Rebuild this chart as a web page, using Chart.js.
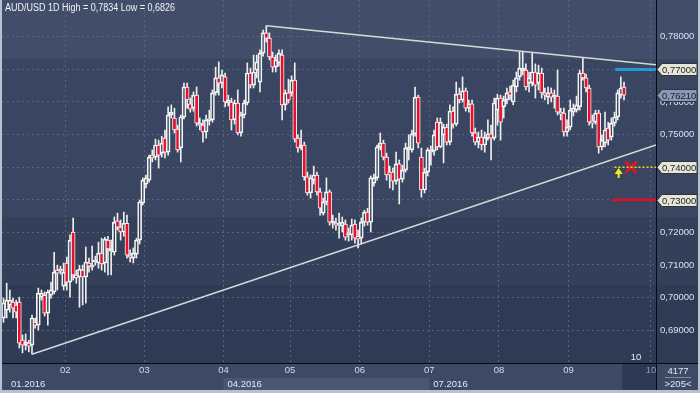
<!DOCTYPE html>
<html>
<head>
<meta charset="utf-8">
<title>AUD/USD 1D</title>
<script src="https://cdn.jsdelivr.net/npm/chart.js@4.4.1/dist/chart.umd.min.js"></script>
<style>
  html, body { margin: 0; padding: 0; background: #b8c1cf; }
  canvas { display: block; }
</style>
</head>
<body>
<canvas id="chart" width="700" height="393"></canvas>
<script>
// AUD/USD daily candles, Jan - Sep 2016
const opens = [
  .6937,.6961,.6977,.6986,.6977,.6986,.6869,.6854,.6860,.6854,
  .6924,.6915,.7001,.7007,.6952,.7007,.7017,.7084,.7081,.7035,
  .7106,.7047,.7201,.7069,.7063,.7084,.7063,.7106,.7093,.7109,
  .7106,.7136,.7106,.7176,.7142,.7139,.7235,.7216,.7201,.7228,
  .7130,.7121,.7133,.7176,.7290,.7348,.7360,.7437,.7431,.7468,
  .7443,.7489,.7446,.7560,.7551,.7517,.7459,.7554,.7646,.7594,
  .7581,.7621,.7529,.7529,.7508,.7542,.7545,.7628,.7674,.7658,
  .7677,.7597,.7600,.7545,.7597,.7505,.7560,.7597,.7689,.7652,
  .7698,.7661,.7750,.7812,.7796,.7738,.7707,.7720,.7744,.7591,
  .7628,.7628,.7667,.7489,.7459,.7468,.7370,.7321,.7360,.7376,
  .7324,.7259,.7293,.7324,.7228,.7228,.7222,.7219,.7225,.7192,
  .7192,.7225,.7188,.7182,.7231,.7262,.7231,.7351,.7367,.7462,
  .7474,.7431,.7385,.7385,.7357,.7410,.7363,.7391,.7453,.7453,
  .7502,.7615,.7431,.7330,.7385,.7446,.7449,.7538,.7462,.7499,
  .7523,.7477,.7572,.7532,.7624,.7606,.7634,.7581,.7594,.7505,
  .7477,.7492,.7468,.7489,.7502,.7489,.7575,.7612,.7585,.7606,
  .7631,.7600,.7646,.7677,.7695,.7698,.7658,.7658,.7692,.7658,
  .7689,.7628,.7615,.7628,.7615,.7618,.7569,.7566,.7508,.7523,
  .7569,.7575,.7585,.7689,.7674,.7643,.7542,.7538,.7566,.7462,
  .7474,.7520,.7492,.7535,.7554,.7621,.7646
];
const highs = [
  .6998,.7044,.7023,.6998,.6992,.7001,.6885,.6888,.6869,.6946,
  .6937,.7029,.7023,.7017,.7023,.7047,.7139,.7099,.7096,.7106,
  .7124,.7192,.7244,.7084,.7099,.7099,.7155,.7121,.7158,.7127,
  .7170,.7182,.7185,.7188,.7176,.7247,.7259,.7238,.7262,.7253,
  .7146,.7152,.7182,.7299,.7367,.7376,.7437,.7453,.7486,.7483,
  .7495,.7514,.7585,.7591,.7581,.7529,.7560,.7658,.7658,.7612,
  .7631,.7646,.7551,.7545,.7560,.7575,.7637,.7707,.7723,.7698,
  .7689,.7621,.7612,.7606,.7637,.7569,.7606,.7720,.7704,.7744,
  .7744,.7760,.7821,.7834,.7812,.7753,.7744,.7760,.7760,.7637,
  .7670,.7680,.7720,.7499,.7514,.7477,.7385,.7376,.7403,.7385,
  .7336,.7305,.7367,.7330,.7253,.7244,.7259,.7247,.7238,.7213,
  .7241,.7238,.7207,.7244,.7268,.7274,.7373,.7379,.7468,.7505,
  .7483,.7443,.7403,.7397,.7446,.7422,.7406,.7474,.7499,.7514,
  .7646,.7621,.7459,.7397,.7459,.7465,.7514,.7551,.7551,.7532,
  .7532,.7591,.7585,.7661,.7643,.7677,.7643,.7606,.7606,.7520,
  .7508,.7514,.7508,.7545,.7529,.7612,.7624,.7621,.7618,.7643,
  .7649,.7667,.7692,.7753,.7753,.7717,.7692,.7750,.7717,.7713,
  .7704,.7643,.7646,.7643,.7637,.7698,.7581,.7581,.7545,.7606,
  .7594,.7618,.7698,.7735,.7686,.7652,.7560,.7575,.7575,.7499,
  .7569,.7538,.7551,.7569,.7637,.7677,.7661
];
const lows = [
  .6924,.6937,.6955,.6937,.6937,.6845,.6830,.6839,.6833,.6826,
  .6906,.6900,.6992,.6943,.6915,.6998,.7011,.7023,.7072,.7023,
  .7023,.7001,.7053,.7044,.6970,.6977,.6983,.7078,.7084,.7099,
  .7090,.7084,.7078,.7069,.7069,.7130,.7207,.7176,.7188,.7121,
  .7109,.7106,.7121,.7164,.7284,.7336,.7354,.7416,.7422,.7397,
  .7431,.7428,.7437,.7551,.7505,.7446,.7416,.7548,.7581,.7569,
  .7572,.7526,.7514,.7477,.7489,.7529,.7538,.7621,.7621,.7643,
  .7585,.7588,.7514,.7532,.7499,.7495,.7551,.7591,.7643,.7643,
  .7674,.7631,.7741,.7784,.7729,.7692,.7692,.7710,.7545,.7575,
  .7597,.7618,.7477,.7446,.7453,.7360,.7314,.7305,.7348,.7314,
  .7253,.7253,.7284,.7222,.7213,.7207,.7182,.7201,.7176,.7173,
  .7176,.7167,.7152,.7164,.7219,.7222,.7201,.7342,.7360,.7453,
  .7422,.7360,.7336,.7330,.7348,.7287,.7354,.7385,.7422,.7446,
  .7495,.7459,.7308,.7321,.7373,.7406,.7437,.7453,.7459,.7413,
  .7468,.7468,.7520,.7526,.7597,.7600,.7572,.7569,.7495,.7468,
  .7459,.7453,.7446,.7483,.7422,.7483,.7529,.7483,.7551,.7594,
  .7606,.7591,.7631,.7667,.7683,.7637,.7631,.7649,.7612,.7637,
  .7612,.7606,.7594,.7600,.7581,.7560,.7545,.7495,.7495,.7514,
  .7557,.7569,.7575,.7667,.7631,.7529,.7520,.7532,.7443,.7453,
  .7462,.7468,.7483,.7526,.7545,.7612,.7606
];
const closes = [
  .6983,.6992,.6992,.6967,.6955,.6860,.6854,.6863,.6851,.6937,
  .6915,.7013,.7013,.6952,.7017,.7023,.7078,.7075,.7087,.7078,
  .7047,.7176,.7069,.7060,.7087,.7063,.7109,.7096,.7099,.7115,
  .7136,.7103,.7179,.7149,.7149,.7231,.7216,.7201,.7228,.7130,
  .7124,.7136,.7176,.7293,.7360,.7367,.7431,.7428,.7468,.7437,
  .7474,.7446,.7560,.7569,.7514,.7453,.7554,.7646,.7606,.7578,
  .7621,.7535,.7535,.7508,.7545,.7548,.7628,.7674,.7658,.7683,
  .7600,.7606,.7545,.7597,.7505,.7560,.7597,.7689,.7652,.7692,
  .7723,.7750,.7812,.7796,.7738,.7707,.7729,.7750,.7591,.7628,
  .7606,.7667,.7486,.7459,.7468,.7370,.7321,.7367,.7376,.7324,
  .7274,.7293,.7324,.7231,.7231,.7222,.7228,.7231,.7185,.7198,
  .7222,.7182,.7179,.7231,.7262,.7231,.7367,.7367,.7462,.7474,
  .7431,.7376,.7376,.7357,.7410,.7363,.7391,.7459,.7462,.7502,
  .7615,.7474,.7330,.7385,.7453,.7453,.7499,.7462,.7538,.7523,
  .7477,.7572,.7532,.7624,.7606,.7634,.7581,.7594,.7505,.7477,
  .7492,.7468,.7492,.7502,.7489,.7597,.7612,.7538,.7606,.7628,
  .7621,.7652,.7674,.7704,.7704,.7646,.7674,.7692,.7652,.7689,
  .7628,.7621,.7628,.7615,.7618,.7569,.7563,.7508,.7523,.7575,
  .7581,.7591,.7689,.7674,.7643,.7538,.7535,.7566,.7462,.7483,
  .7514,.7483,.7535,.7554,.7628,.7643,.7621
];

// month axis: index of first candle of each month
const monthStarts = [20, 45, 70, 91, 113, 135, 157, 179, 205];
const monthLabels = ["02", "03", "04", "05", "06", "07", "08", "09", "10"];
const quarterLabels = ["01.2016", "04.2016", "07.2016"];
const quarterMonth = [-1, 2, 5]; // position in monthStarts (-1 = chart start)

const yTicks = [0.69, 0.70, 0.71, 0.72, 0.73, 0.74, 0.75, 0.76, 0.77, 0.78];

// triangle lines
const resistX = [83, 206.1];
const resistY = [0.7834, 0.7714];
const supportX = [9, 206.1];
const supportY = [0.6826, 0.7468];

// horizontal levels on the right + price tags
const levelPrices = [0.77, 0.74, 0.73];
const levelFrom = [193.2, 193, 192.2];
const tagPrices = [0.77, 0.7621, 0.74, 0.73];
const arrowMark = [194.3, 0.7367, 0.7394]; // x, from, to
const stopMark = [198.2, 0.7400];

const X_MIN = -0.474, X_MAX = 206.1;
const Y_MIN = 0.6799, Y_MAX = 0.7913;
const FONT = '"Liberation Sans", Arial, sans-serif';

const fmt = (v, d) => v.toFixed(d).replace(".", ",");

const idx = opens.map((_, i) => i);
const bodies = idx.map(i => ({ x: i, y: [opens[i], closes[i]] }));
const upperWicks = idx.map(i => ({ x: i, y: [Math.max(opens[i], closes[i]), highs[i]] }));
const lowerWicks = idx.map(i => ({ x: i, y: [lows[i], Math.min(opens[i], closes[i])] }));
const bodyFill = idx.map(i => (closes[i] < opens[i] ? "#e4102c" : "rgba(0,0,0,0)"));

const levelStyles = [
  { color: "#1d9ad8", width: 3, dash: [] },
  { color: "#e0da20", width: 1.5, dash: [2, 2] },
  { color: "#e2101e", width: 2.5, dash: [] }
];
const tagFills = ["#e6e6d6", "#8a98b6", "#e6e6d6", "#e6e6d6"];

const decor = {
  id: "decor",
  beforeDraw(chart) {
    const { ctx, chartArea: area, scales: { x: xs } } = chart;
    ctx.save();
    const bands = [[0, 59, "#424e69"], [59, 217, "#3a4661"], [217, 285, "#343f5a"], [285, 363, "#2f3a54"]];
    bands.forEach(([y0, y1, c]) => {
      ctx.fillStyle = c;
      ctx.fillRect(0, y0, 700, y1 - y0);
    });
    ctx.fillStyle = "#3d4965";
    ctx.fillRect(0, 363, 700, 30);
    const a = xs.getPixelForValue(monthStarts[2] - 0.5);
    const b = xs.getPixelForValue(monthStarts[5] - 0.5);
    ctx.fillStyle = "#4a5674";
    ctx.fillRect(a, 378, b - a, 12);
    const d = xs.getPixelForValue(opens.length - 1.5);
    ctx.fillStyle = "#2d3852";
    ctx.fillRect(d, 363, area.right - d, 27);
    ctx.restore();
  },
  afterDatasetsDraw(chart) {
    const { ctx, scales: { x: xs, y: ys } } = chart;
    // yellow arrow
    const ax = xs.getPixelForValue(arrowMark[0]);
    const yb = ys.getPixelForValue(arrowMark[1]);
    const yt = ys.getPixelForValue(arrowMark[2]);
    ctx.save();
    ctx.strokeStyle = "#f0ec1c";
    ctx.fillStyle = "#f0ec1c";
    ctx.lineWidth = 2;
    ctx.beginPath();
    ctx.moveTo(ax, yb);
    ctx.lineTo(ax, yt + 3);
    ctx.stroke();
    ctx.beginPath();
    ctx.moveTo(ax, yt - 1);
    ctx.lineTo(ax - 4, yt + 5);
    ctx.lineTo(ax + 4, yt + 5);
    ctx.closePath();
    ctx.fill();
    ctx.restore();
  },
  afterDraw(chart) {
    const { ctx, chartArea: area, scales: { x: xs, y: ys } } = chart;
    ctx.save();
    // separators
    ctx.fillStyle = "#070a10";
    ctx.fillRect(Math.round(area.right), 0, 1, 390);
    ctx.fillRect(0, Math.round(area.bottom), 700, 1);

    // price tags
    ctx.font = "9.5px " + FONT;
    ctx.textBaseline = "middle";
    ctx.textAlign = "left";
    tagPrices.forEach((p, i) => {
      const y = Math.round(ys.getPixelForValue(p)) + 0.5;
      const x = area.right + 1;
      ctx.beginPath();
      ctx.moveTo(x, y);
      ctx.lineTo(x + 5, y - 6);
      ctx.lineTo(697, y - 6);
      ctx.lineTo(697, y + 6);
      ctx.lineTo(x + 5, y + 6);
      ctx.closePath();
      ctx.fillStyle = tagFills[i];
      ctx.fill();
      ctx.strokeStyle = "#30343c";
      ctx.lineWidth = 1;
      ctx.stroke();
      ctx.fillStyle = "#1a2030";
      ctx.fillText(fmt(p, 5), x + 5, y + 0.5);
    });

    // header (slightly condensed, like the original terminal font)
    const hi = Math.max(...highs), lo = Math.min(...lows);
    ctx.save();
    ctx.translate(5, 8);
    ctx.scale(0.9, 1);
    ctx.fillStyle = "#f0f3f8";
    ctx.font = "10px " + FONT;
    ctx.fillText("AUD/USD 1D High = " + fmt(hi, 4) + " Low = " + fmt(lo, 4), 0, 0);
    ctx.restore();

    // small scale label
    ctx.font = "9.5px " + FONT;
    ctx.textAlign = "center";
    ctx.fillStyle = "#e4eaf4";
    ctx.fillText("10", 636, 357);

    // quarter row
    ctx.textAlign = "left";
    ctx.fillStyle = "#e2eaf6";
    quarterLabels.forEach((t, i) => {
      const m = quarterMonth[i];
      const x = m < 0 ? area.left + 9 : xs.getPixelForValue(monthStarts[m] - 0.5) + 4;
      ctx.fillText(t, x, 384);
    });

    // corner box
    ctx.textAlign = "center";
    ctx.fillText("4177", 678, 371);
    ctx.fillText(">205<", 678, 384);
    ctx.fillStyle = "#7d8aa3";
    ctx.fillRect(665, 377, 26, 1);

    // outer frame
    ctx.fillStyle = "#b8c1cf";
    ctx.fillRect(0, 0, 2, 393);
    ctx.fillRect(698, 0, 2, 393);
    ctx.fillRect(0, 390, 700, 3);
    ctx.restore();
  }
};

const lineSet = (label, xsArr, ysArr, color, width, dash) => ({
  type: "line",
  label,
  data: xsArr.map((x, i) => ({ x, y: ysArr[i] })),
  borderColor: color,
  borderWidth: width,
  borderDash: dash,
  pointRadius: 0,
  order: 0
});

const datasets = [
  lineSet("resistance", resistX, resistY, "#d8d8d8", 1.5, []),
  lineSet("support", supportX, supportY, "#d8d8d8", 1.5, []),
  ...levelPrices.map((p, i) =>
    lineSet("level " + p, [levelFrom[i], X_MAX], [p, p], levelStyles[i].color, levelStyles[i].width, levelStyles[i].dash)),
  {
    type: "line",
    label: "stop",
    data: [{ x: stopMark[0], y: stopMark[1] }],
    showLine: false,
    pointStyle: "crossRot",
    pointRadius: 8,
    pointBorderWidth: 2.5,
    borderColor: "#e8141e",
    order: 0
  },
  { label: "upper wick", data: upperWicks, backgroundColor: "#eeeeee", barThickness: 1, grouped: false, order: 3 },
  { label: "lower wick", data: lowerWicks, backgroundColor: "#eeeeee", barThickness: 1, grouped: false, order: 3 },
  {
    label: "body",
    data: bodies,
    backgroundColor: bodyFill,
    borderColor: "#f4f4f4",
    borderWidth: 1,
    borderSkipped: false,
    barThickness: 4,
    minBarLength: 2,
    grouped: false,
    order: 1
  }
];

const chart = new Chart(document.getElementById("chart"), {
  type: "bar",
  data: { datasets },
  plugins: [decor],
  options: {
    responsive: false,
    animation: false,
    devicePixelRatio: 1,
    events: [],
    layout: { autoPadding: false, padding: { left: 2, top: 0, right: 0, bottom: 3 } },
    plugins: { legend: { display: false }, tooltip: { enabled: false } },
    scales: {
      x: {
        type: "linear",
        min: X_MIN,
        max: X_MAX,
        offset: false,
        afterBuildTicks: (s) => { s.ticks = monthStarts.map(v => ({ value: v - 0.5 })); },
        afterFit: (s) => { s.height = 27; s.paddingLeft = 0; s.paddingRight = 0; },
        ticks: {
          autoSkip: false,
          maxRotation: 0,
          padding: 2,
          color: (c) => (c.index === monthLabels.length - 1 ? "#8c9ab4" : "#d0ddf2"),
          font: { family: FONT, size: 9.5 },
          callback: (v, i) => monthLabels[i]
        },
        grid: { color: "#56647f", lineWidth: 1, drawTicks: false, offset: false },
        border: { display: false, dash: [2, 3] }
      },
      y: {
        type: "linear",
        position: "right",
        min: Y_MIN,
        max: Y_MAX,
        afterBuildTicks: (s) => { s.ticks = yTicks.map(v => ({ value: v })); },
        afterFit: (s) => { s.width = 44; s.paddingTop = 0; s.paddingBottom = 0; },
        ticks: {
          padding: 4,
          color: "#d4e2f6",
          font: { family: FONT, size: 9.5 },
          callback: (v) => fmt(v, 5)
        },
        grid: { color: "#56647f", lineWidth: 1, drawTicks: false },
        border: { display: false, dash: [2, 3] }
      }
    }
  }
});

// keep the reference's scale (0.78 at y=37, 3260 px per unit; first candle at x=3.5,
// 3.166 px per candle) even if the layout left a margin somewhere
const area = chart.chartArea;
if (area.top > 0.5 || area.left > 2.5) {
  const pxPerUnit = 3260, pxPerCandle = 3.166;
  chart.options.scales.y.max = 0.78 + (36.8 - area.top) / pxPerUnit;
  chart.options.scales.y.min = 0.78 - (area.bottom - 36.8) / pxPerUnit;
  chart.options.scales.x.min = -(3.5 - area.left) / pxPerCandle;
  chart.options.scales.x.max = chart.options.scales.x.min + (area.right - area.left) / pxPerCandle;
  chart.update();
}
</script>
</body>
</html>
